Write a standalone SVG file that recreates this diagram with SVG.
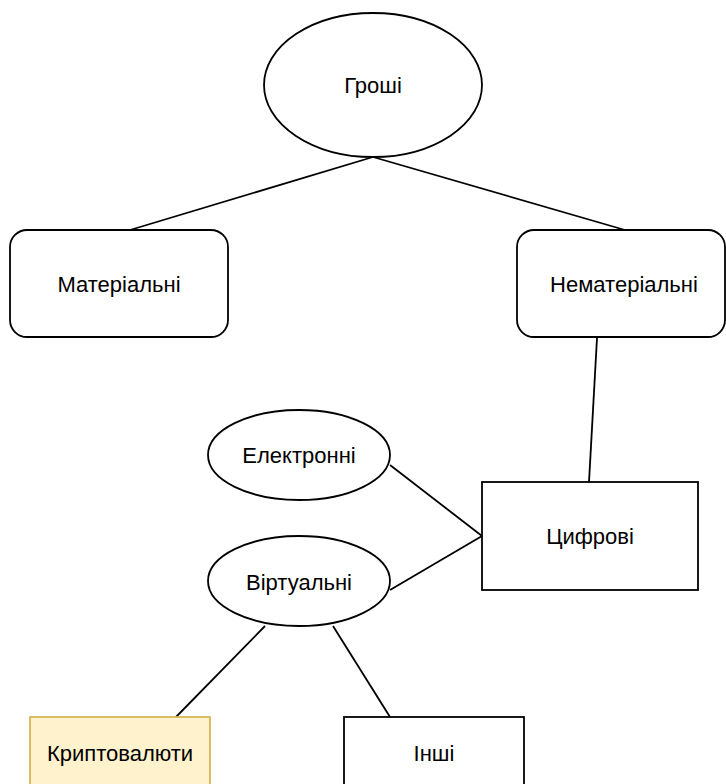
<svg xmlns="http://www.w3.org/2000/svg" width="726" height="784" viewBox="0 0 726 784">
<style>
.s{fill:#ffffff;stroke:#000000;stroke-width:1.8}
.y{fill:#fff2cc;stroke:#d6b656;stroke-width:1.8}
.e{fill:none;stroke:#000000;stroke-width:1.8}
text{font-family:"Liberation Sans",Arial,Helvetica,sans-serif;font-size:22px;fill:#000000;text-anchor:middle;dominant-baseline:central}
</style>
<rect width="726" height="784" fill="#ffffff"/>
<g id="connectors">
<line class="e" x1="373" y1="157" x2="130" y2="230"/>
<line class="e" x1="373" y1="157" x2="625" y2="230"/>
<line class="e" x1="597" y1="338" x2="589" y2="482"/>
<line class="e" x1="390" y1="465" x2="482" y2="536"/>
<line class="e" x1="390" y1="590" x2="482" y2="536"/>
<line class="e" x1="265" y1="626" x2="176" y2="717"/>
<line class="e" x1="333" y1="626" x2="390" y2="717"/>
</g>
<g id="groshi">
<ellipse class="s" cx="373" cy="85" rx="109" ry="72"/>
<text x="373" y="85">Гроші</text>
</g>
<g id="materialni">
<rect class="s" x="10" y="230" width="218" height="107" rx="17"/>
<text x="119" y="284">Матеріальні</text>
</g>
<g id="nematerialni">
<rect class="s" x="517" y="230" width="208" height="107" rx="17"/>
<text x="624" y="284">Нематеріальні</text>
</g>
<g id="elektronni">
<ellipse class="s" cx="299" cy="455" rx="91" ry="45"/>
<text x="299" y="455">Електронні</text>
</g>
<g id="virtualni">
<ellipse class="s" cx="299" cy="581" rx="91" ry="45"/>
<text x="299" y="582">Віртуальні</text>
</g>
<g id="tsyfrovi">
<rect class="s" x="482" y="482" width="216" height="108"/>
<text x="590" y="536">Цифрові</text>
</g>
<g id="kryptovaliuty">
<rect class="y" x="30" y="717" width="180" height="108"/>
<text x="120" y="753">Криптовалюти</text>
</g>
<g id="inshi">
<rect class="s" x="344" y="717" width="180" height="108"/>
<text x="434" y="753">Інші</text>
</g>
</svg>
